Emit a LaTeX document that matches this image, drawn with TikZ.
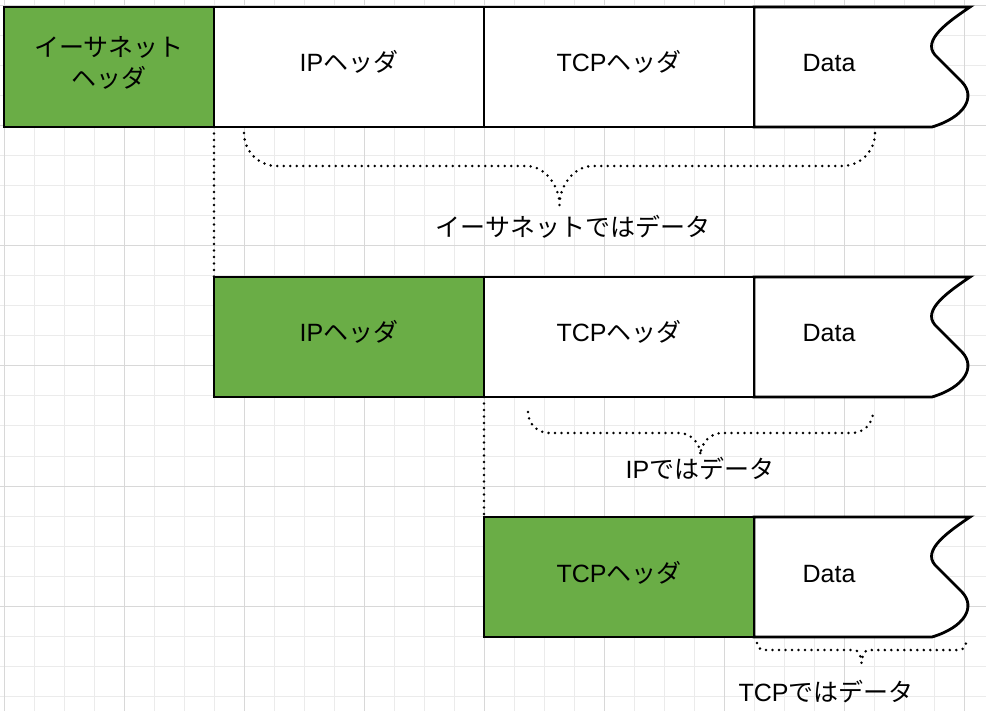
\documentclass[tikz,border=0pt]{standalone}
\usepackage{fontspec}
\setmainfont{Liberation Sans}
\newfontfamily\jp{Noto Sans CJK JP}
\definecolor{hdrgreen}{RGB}{106,173,70}
\definecolor{gridminor}{RGB}{235,235,235}
\definecolor{gridmajor}{RGB}{216,216,216}
\tikzset{
  cell/.style={draw=black, line width=2.8pt, fill=white, minimum height=120pt,
    inner sep=0pt, outer sep=0pt, anchor=north west},
  hdr/.style={cell, fill=hdrgreen},
  lbl/.style={inner sep=0pt, anchor=base, font=\fontsize{25}{30}\selectfont},
  dotline/.style={draw=black, line width=2.8pt, dash pattern=on 0pt off 6.5pt, line cap=round},
  tape/.style={draw=black, line width=2.8pt, fill=white, line join=miter}
}
\newcommand\bracepath[5]{% L R top mid tip
  \pgfmathsetmacro\rr{#4-#3}
  \pgfmathsetmacro\cc{(#1+#2)/2}
  \draw[dotline] (#1,#3) .. controls (#1,{#3+0.552*\rr}) and ({#1+0.448*\rr},#4) .. ({#1+\rr},#4)
    -- ({\cc-\rr},#4) .. controls ({\cc-0.448*\rr},#4) and (\cc,{#5-0.5*(#5-#4)}) .. (\cc,#5)
    .. controls (\cc,{#5-0.5*(#5-#4)}) and ({\cc+0.448*\rr},#4) .. ({\cc+\rr},#4)
    -- ({#2-\rr},#4) .. controls ({#2-0.448*\rr},#4) and (#2,{#3+0.552*\rr}) .. (#2,#3);
}
\newcommand\tapeat[1]{%
  \path[tape] (754,#1) -- (970,#1)
    .. controls (948,{#1+15}) and (922,{#1+33}) .. (935,{#1+48})
    -- (962,{#1+75})
    .. controls (976,{#1+90}) and (965,{#1+110}) .. (932,{#1+120})
    -- (754,{#1+120}) -- cycle;
}
\begin{document}
\begin{tikzpicture}[x=1pt,y=-1pt]
\useasboundingbox (0,0) rectangle (986,711);
\fill[white] (0,0) rectangle (986,711);
% grid
\foreach \gx in {4,34,...,994} \draw[gridminor, line width=1pt] (\gx,0) -- (\gx,711);
\foreach \gy in {6,36,...,711} \draw[gridminor, line width=1pt] (0,\gy) -- (986,\gy);
\foreach \gx in {4,124,...,994} \draw[gridmajor, line width=1pt] (\gx,0) -- (\gx,711);
\foreach \gy in {6,126,...,711} \draw[gridmajor, line width=1pt] (0,\gy) -- (986,\gy);

% row 1
\tapeat{7}
\node[hdr, minimum width=210pt] (eth1) at (4,7) {};
\node[cell, minimum width=270pt] (ip1) at (214,7) {};
\node[cell, minimum width=270pt] (tcp1) at (484,7) {};
\node[lbl] (eth1a) at (109,57) {\jp イーサネット};
\node[lbl] (eth1b) at (109,88) {\jp ヘッダ};
\node[lbl] (ip1t) at (349,72) {IP{\jp ヘッダ}};
\node[lbl] (tcp1t) at (619,72) {TCP{\jp ヘッダ}};
\node[lbl] (data1t) at (829,72) {Data};

% row 2
\tapeat{277}
\node[hdr, minimum width=270pt] (ip2) at (214,277) {};
\node[cell, minimum width=270pt] (tcp2) at (484,277) {};
\node[lbl] (ip2t) at (349,342) {IP{\jp ヘッダ}};
\node[lbl] (tcp2t) at (619,342) {TCP{\jp ヘッダ}};
\node[lbl] (data2t) at (829,342) {Data};

% row 3
\tapeat{517}
\node[hdr, minimum width=270pt] (tcp3) at (484,517) {};
\node[lbl] (tcp3t) at (619,582) {TCP{\jp ヘッダ}};
\node[lbl] (data3t) at (829,582) {Data};

% dotted guides
\draw[dotline] (eth1.south east) -- (ip2.north west);
\draw[dotline] (ip2.south east) -- (tcp3.north west);

% braces
\bracepath{244}{875}{133}{166}{205}
\bracepath{528}{873}{412}{433}{455}
\bracepath{757}{966}{643}{650}{663}

\node[lbl] (l1) at (573,237) {\jp イーサネットではデータ};
\node[lbl] (l2) at (700,478) {IP{\jp ではデータ}};
\node[lbl] (l3) at (826,701) {TCP{\jp ではデータ}};
\end{tikzpicture}
\end{document}
